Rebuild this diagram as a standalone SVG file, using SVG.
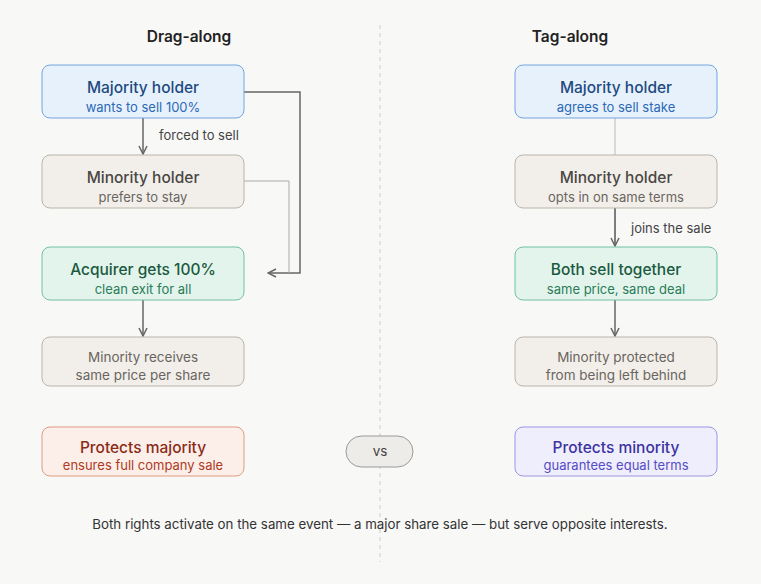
<svg xmlns="http://www.w3.org/2000/svg" width="761" height="584" viewBox="0 0 761 584">
<style>
text{font-family:Inter,"Liberation Sans",sans-serif;text-anchor:middle}
.h{font-size:15.5px;font-weight:500}
.s{font-size:13px}
.t{font-size:13.5px}
.l{font-size:13px;fill:#444;text-anchor:start}
.b rect{fill:#e7f1fc;stroke:#72a6de}.b .h{fill:#1e4a80}.b .s{fill:#2c69b6}
.g rect{fill:#f2efea;stroke:#bab4aa}.g .h{fill:#4a4744}.g .s,.g .t{fill:#6a6560}
.n rect{fill:#e3f4ec;stroke:#72c2a0}.n .h{fill:#1a5a40}.n .s{fill:#2a7c58}
.r rect{fill:#fcefea;stroke:#e29a82}.r .h{fill:#8a2c17}.r .s{fill:#b03a1c}
.p rect{fill:#efeefc;stroke:#9d95e2}.p .h{fill:#3b33a0}.p .s{fill:#564cc6}
</style>
<defs><marker id="a" viewBox="0 0 10 10" refX="9" refY="5" markerWidth="10" markerHeight="10" markerUnits="userSpaceOnUse" orient="auto"><path d="M1 1L9 5L1 9" fill="none" stroke="#666" stroke-width="1.5"/></marker></defs>
<rect width="761" height="584" fill="#f8f8f7"/>
<line x1="380" y1="25" x2="380" y2="562" stroke="#ccc" stroke-dasharray="4 4"/>
<text x="189" y="42" style="font-size:15.5px;font-weight:600;fill:#222">Drag-along</text>
<text x="570" y="42" style="font-size:15.5px;font-weight:600;fill:#222">Tag-along</text>
<g id="connectors" fill="none">
<line x1="143" y1="118" x2="143" y2="154" stroke="#666" stroke-width="1.5" marker-end="url(#a)"/>
<path d="M244 92H300V273H268" stroke="#666" stroke-width="1.5" marker-end="url(#a)"/>
<path d="M244 181H289V273" stroke="#aaa" stroke-width="1"/>
<line x1="143" y1="300" x2="143" y2="336" stroke="#666" stroke-width="1.5" marker-end="url(#a)"/>
<line x1="615" y1="118" x2="615" y2="164" stroke="#bbb" stroke-width="1"/>
<line x1="615" y1="208" x2="615" y2="246" stroke="#555" stroke-width="1.5" marker-end="url(#a)"/>
<line x1="615" y1="300" x2="615" y2="336" stroke="#666" stroke-width="1.5" marker-end="url(#a)"/>
<text class="l" x="159" y="140">forced to sell</text>
<text class="l" x="631" y="233">joins the sale</text>
</g>
<g id="dmaj" class="b"><rect x="42" y="65" width="202" height="53" rx="8"/><text class="h" x="143" y="93">Majority holder</text><text class="s" x="143" y="112">wants to sell 100%</text></g>
<g id="dmin" class="g"><rect x="42" y="155" width="202" height="53" rx="8"/><text class="h" x="143" y="183">Minority holder</text><text class="s" x="143" y="202">prefers to stay</text></g>
<g id="dacq" class="n"><rect x="42" y="247" width="202" height="53" rx="8"/><text class="h" x="143" y="275">Acquirer gets 100%</text><text class="s" x="143" y="294">clean exit for all</text></g>
<g id="drec" class="g"><rect x="42" y="337" width="202" height="49" rx="8"/><text class="t" x="143" y="362">Minority receives</text><text class="t" x="143" y="380">same price per share</text></g>
<g id="dprot" class="r"><rect x="42" y="427" width="202" height="49" rx="8"/><text class="h" x="143" y="453">Protects majority</text><text class="s" x="143" y="470">ensures full company sale</text></g>
<g id="tmaj" class="b"><rect x="515" y="65" width="202" height="53" rx="8"/><text class="h" x="616" y="93">Majority holder</text><text class="s" x="616" y="112">agrees to sell stake</text></g>
<g id="tmin" class="g"><rect x="515" y="155" width="202" height="53" rx="8"/><text class="h" x="616" y="183">Minority holder</text><text class="s" x="616" y="202">opts in on same terms</text></g>
<g id="tboth" class="n"><rect x="515" y="247" width="202" height="53" rx="8"/><text class="h" x="616" y="275">Both sell together</text><text class="s" x="616" y="294">same price, same deal</text></g>
<g id="tprot1" class="g"><rect x="515" y="337" width="202" height="49" rx="8"/><text class="t" x="616" y="362">Minority protected</text><text class="t" x="616" y="380">from being left behind</text></g>
<g id="tprot" class="p"><rect x="515" y="427" width="202" height="49" rx="8"/><text class="h" x="616" y="453">Protects minority</text><text class="s" x="616" y="470">guarantees equal terms</text></g>
<g id="vs"><rect x="346" y="436" width="67" height="31" rx="15.5" fill="#eeece8" stroke="#999"/><text x="380" y="456" style="font-size:13.5px;fill:#444">vs</text></g>
<text x="380" y="529" style="font-size:13.3px;fill:#333">Both rights activate on the same event — a major share sale — but serve opposite interests.</text>
</svg>
